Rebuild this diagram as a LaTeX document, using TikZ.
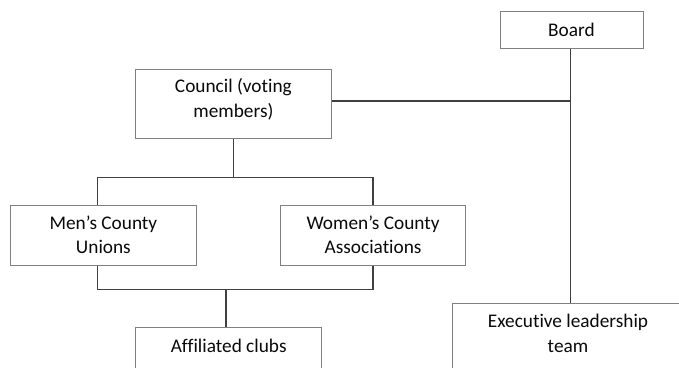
\documentclass[tikz,border=0pt]{standalone}
\usepackage{fontspec}
\setmainfont[Ligatures={NoCommon}]{Carlito}
\definecolor{boxline}{RGB}{128,128,128}
\definecolor{conn}{RGB}{64,64,64}
\definecolor{txt}{RGB}{10,10,10}
\tikzset{
  orgbox/.style={draw=boxline, line width=1pt, fill=white, rectangle, align=center,
    inner sep=0pt, text=txt, font=\fontsize{19.3}{24.5}\selectfont},
  link/.style={draw=conn, line width=1.5pt}
}
\begin{document}
\begin{tikzpicture}[x=1pt,y=-1pt]
\useasboundingbox (0,0) rectangle (679,367);
\clip (0,0) rectangle (679,367);
\node[orgbox, minimum width=143pt, minimum height=37pt] (board) at (571.5,29.5) {Board};
\node[orgbox, minimum width=195.3pt, minimum height=69.4pt] (council) at (233.4,104) {Council (voting\\members)\rule[-12pt]{0pt}{12pt}};
\node[orgbox, minimum width=186.7pt, minimum height=60pt] (men) at (103.4,235) {Men’s County\\Unions};
\node[orgbox, minimum width=185pt, minimum height=60pt] (women) at (373.1,235) {Women’s County\\Associations};
\node[orgbox, minimum width=186.2pt, minimum height=60pt] (aff) at (228.7,357.7) {Affiliated clubs\\\mbox{}};
\node[orgbox, minimum width=231pt, minimum height=80pt] (exec) at (568,343.3) {Executive leadership\\team\rule[-20pt]{0pt}{20pt}};
\coordinate (j) at (570.7,101);
\coordinate (tl) at (97.7,177.7);
\coordinate (tr) at (373,177.7);
\coordinate (bl) at (97.7,289.3);
\coordinate (br) at (373,289.3);
\coordinate (bm) at (226,289.3);
\draw[link] (j |- board.south) -- (j |- exec.north);
\draw[link] (council.east |- j) -- (j);
\draw[link] (council.south) -- (council.south |- tl);
\draw[link] (tl |- men.north) -- (tl) -- (tr) -- (tr |- women.north);
\draw[link] (bl |- men.south) -- (bl) -- (br) -- (br |- women.south);
\draw[link] (bm) -- (bm |- aff.north);
\end{tikzpicture}
\end{document}
